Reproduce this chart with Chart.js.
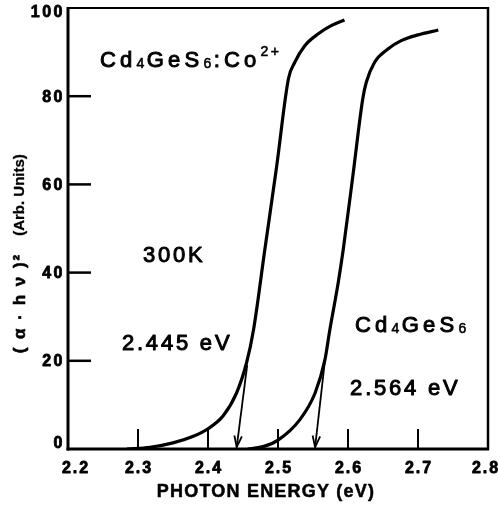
<!DOCTYPE html>
<html><head><meta charset="utf-8">
<script src="https://cdn.jsdelivr.net/npm/chart.js@4"></script>
<style>html,body{margin:0;padding:0;background:#fff}#c{display:block}</style>
</head><body>
<canvas id="c" width="498" height="510"></canvas>
<script>
// Cd4GeS6:Co2+ curve
const coX = [2.284, 2.317, 2.35, 2.379, 2.40, 2.422, 2.441, 2.455, 2.465, 2.481, 2.498, 2.515, 2.524, 2.538, 2.557, 2.576, 2.595];
const coY = [0, 0.4, 1.4, 2.9, 4.6, 7.6, 12.8, 19.5, 27, 45, 64, 84, 87.7, 91.4, 94.1, 96, 97.3];
// Cd4GeS6 curve
const pureX = [2.457, 2.48, 2.50, 2.531, 2.553, 2.567, 2.574, 2.586, 2.593, 2.607, 2.621, 2.626, 2.638, 2.657, 2.676, 2.70, 2.729];
const pureY = [0, 0.6, 2, 6.6, 12.7, 20.2, 27, 37.7, 45, 62, 79.3, 83.1, 87.7, 90.7, 92.6, 93.9, 95];
// arrows (from curve to band-gap value on axis)
const arrowCoX = [2.456, 2.441];
const arrowCoY = [19, 0.4];
const arrowPureX = [2.567, 2.553];
const arrowPureY = [20, 0.4];
// ticks
const xTickValues = [2.2, 2.3, 2.4, 2.5, 2.6, 2.7, 2.8];
const xTickLabels = ['2.2', '2.3', '2.4', '2.5', '2.6', '2.7', '2.8'];
const yTickValues = [0, 20, 40, 60, 80, 100];
const yTickLabels = ['0', '20', '40', '60', '80', '100'];
const xInnerTicks = [2.3, 2.4, 2.5, 2.6, 2.7];
const yInnerTicks = [20, 40, 60, 80];
// annotation texts
const xTitle = 'PHOTON ENERGY (eV)';
const yTitleA = '( α · h ν )²';
const yTitleB = '(Arb. Units)';
const annotations = [
  {x: 2.2457, y: 86.6, wide: true, segs: [['Cd'], ['4', 'sub'], ['GeS'], ['6', 'sub'], [':Co'], ['2+', 'sup']]},
  {x: 2.307, y: 42.4, segs: [['300K']]},
  {x: 2.277, y: 22.4, segs: [['2.445 eV']]},
  {x: 2.61, y: 26.5, wide: true, segs: [['Cd'], ['4', 'sub'], ['GeS'], ['6', 'sub']]},
  {x: 2.603, y: 12.2, segs: [['2.564 eV']]}
];

const pts = (xs, ys) => xs.map((x, i) => ({x, y: ys[i]}));

const FONT = '"Liberation Sans", Arial, Helvetica, sans-serif';

function heavyText(ctx, t, x, y, w) {
  ctx.fillText(t, x, y);
  if (w > 0) { ctx.lineWidth = w; ctx.lineJoin = 'round'; ctx.strokeText(t, x, y); }
}

const decor = {
  id: 'decor',
  afterDatasetsDraw(chart) {
    const ctx = chart.ctx;
    const xs = chart.scales.x, ys = chart.scales.y;
    const a = chart.chartArea;
    ctx.save();
    ctx.strokeStyle = '#000';
    ctx.fillStyle = '#000';
    // frame
    const side = (x1, y1, x2, y2, w) => { ctx.lineWidth = w; ctx.beginPath(); ctx.moveTo(x1, y1); ctx.lineTo(x2, y2); ctx.stroke(); };
    side(a.left, a.top - 1, a.left, a.bottom + 1.5, 3);
    side(a.left - 1.5, a.bottom, a.right + 1, a.bottom, 3);
    side(a.left, a.top, a.right + 1, a.top, 2);
    side(a.right, a.top - 1, a.right, a.bottom + 1, 2.5);
    // inner ticks
    ctx.lineCap = 'butt';
    yInnerTicks.forEach(v => { const p = ys.getPixelForValue(v); side(a.left, p, a.left + 23, p, 2.5); });
    xInnerTicks.forEach(v => { const p = xs.getPixelForValue(v); side(p, a.bottom, p, a.bottom - 20, 2); });
    // arrowheads
    [2, 3].forEach(di => {
      const m = chart.getDatasetMeta(di).data;
      const p0 = m[m.length - 2], p1 = m[m.length - 1];
      const ang = Math.atan2(p1.y - p0.y, p1.x - p0.x);
      const L = 12, h = 0.32;
      ctx.lineWidth = 1.8;
      ctx.beginPath();
      ctx.moveTo(p1.x - L * Math.cos(ang - h), p1.y - L * Math.sin(ang - h));
      ctx.lineTo(p1.x, p1.y);
      ctx.lineTo(p1.x - L * Math.cos(ang + h), p1.y - L * Math.sin(ang + h));
      ctx.stroke();
    });
    // tick labels
    ctx.font = 'bold 16px ' + FONT;
    ctx.letterSpacing = '2px';
    ctx.textBaseline = 'alphabetic';
    ctx.textAlign = 'center';
    xTickValues.forEach((v, i) => {
      let p = xs.getPixelForValue(v);
      if (i === 0) p += 7;
      if (i === xTickValues.length - 1) p -= 3;
      heavyText(ctx, xTickLabels[i], p + 1, 473, 0.8);
    });
    ctx.textAlign = 'right';
    ctx.textBaseline = 'middle';
    ctx.letterSpacing = '2.5px';
    yTickValues.forEach((v, i) => {
      let p = ys.getPixelForValue(v);
      if (v === 100) p += 5; else if (v === 0) p -= 5; else p += 1;
      heavyText(ctx, yTickLabels[i], a.left - 3, p, 0.8);
    });
    // x title
    ctx.textAlign = 'center';
    ctx.textBaseline = 'alphabetic';
    ctx.font = 'bold 18px ' + FONT;
    ctx.letterSpacing = '1.2px';
    heavyText(ctx, xTitle, (a.left + a.right) / 2 - 12, 497, 0.5);
    // y title (rotated)
    ctx.textBaseline = 'middle';
    ctx.save();
    ctx.translate(20, 303);
    ctx.rotate(-Math.PI / 2);
    ctx.font = 'bold 17px ' + FONT;
    ctx.letterSpacing = '2px';
    heavyText(ctx, yTitleA, 0, 0, 0.6);
    ctx.restore();
    ctx.save();
    ctx.translate(20, 195);
    ctx.rotate(-Math.PI / 2);
    ctx.font = 'bold 15px ' + FONT;
    ctx.letterSpacing = '0px';
    heavyText(ctx, yTitleB, 0, 0, 0.3);
    ctx.restore();
    // annotations
    ctx.textAlign = 'left';
    ctx.textBaseline = 'alphabetic';
    annotations.forEach(an => {
      let x = xs.getPixelForValue(an.x);
      const y = ys.getPixelForValue(an.y);
      an.segs.forEach(([t, kind]) => {
        let size = 22, dy = 0;
        if (kind === 'sub') { size = 14; dy = 1; }
        if (kind === 'sup') { size = 14; dy = -11; }
        ctx.font = size + 'px ' + FONT;
        ctx.letterSpacing = kind ? (an.wide ? '2.5px' : '1px') : (an.wide ? '4.2px' : '2.8px');
        heavyText(ctx, t, x, y + dy, kind ? 0.6 : 1.0);
        x += ctx.measureText(t).width;
      });
    });
    ctx.restore();
  }
};

new Chart(document.getElementById('c'), {
  type: 'scatter',
  data: {
    datasets: [
      {data: pts(coX, coY), showLine: true, borderColor: '#000', borderWidth: 3.2, pointRadius: 0, cubicInterpolationMode: 'monotone'},
      {data: pts(pureX, pureY), showLine: true, borderColor: '#000', borderWidth: 3.2, pointRadius: 0, cubicInterpolationMode: 'monotone'},
      {data: pts(arrowCoX, arrowCoY), showLine: true, borderColor: '#000', borderWidth: 1.8, pointRadius: 0},
      {data: pts(arrowPureX, arrowPureY), showLine: true, borderColor: '#000', borderWidth: 1.8, pointRadius: 0}
    ]
  },
  options: {
    responsive: false,
    animation: false,
    devicePixelRatio: 1,
    layout: {padding: {left: 68, right: 10, top: 8, bottom: 61}},
    plugins: {legend: {display: false}, tooltip: {enabled: false}},
    scales: {
      x: {type: 'linear', min: 2.2, max: 2.8, display: false},
      y: {type: 'linear', min: 0, max: 100, display: false}
    }
  },
  plugins: [decor]
});
</script>
</body></html>
